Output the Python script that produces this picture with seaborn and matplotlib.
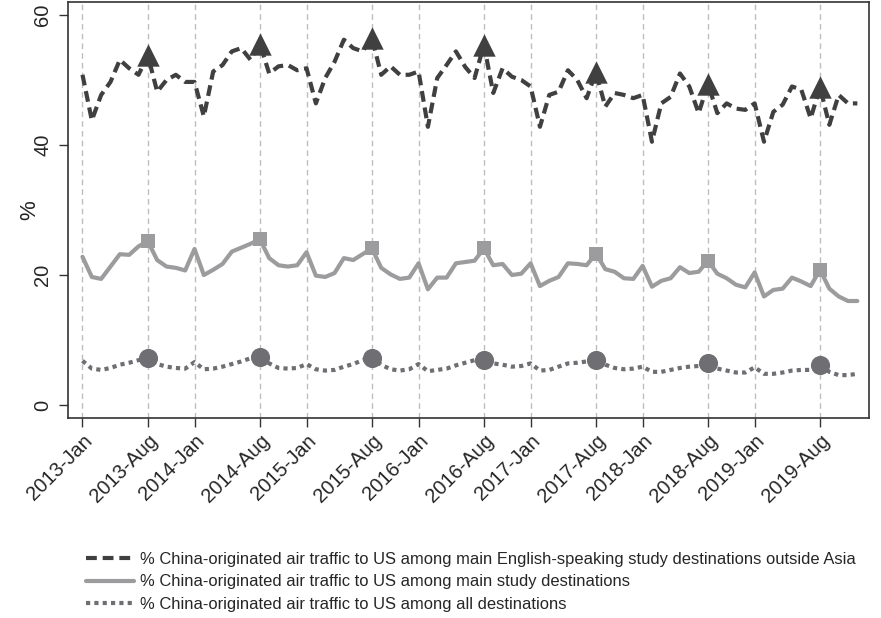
import numpy as np
import pandas as pd
import matplotlib
matplotlib.use("Agg")
import matplotlib.pyplot as plt
from matplotlib.lines import Line2D
import seaborn as sns

# Monthly series, 2013-Jan .. 2019-Dec (84 months), shares in percent
years = list(range(2013, 2020))
month_names = ["Jan", "Feb", "Mar", "Apr", "May", "Jun",
               "Jul", "Aug", "Sep", "Oct", "Nov", "Dec"]

english_outside_asia = [
    50.8, 43.8, 47.7, 49.7, 53.1, 51.8, 50.8, 53.8, 48.2, 50.0, 50.8, 49.7,
    49.7, 44.4, 51.3, 52.3, 54.4, 54.9, 53.1, 55.6, 51.0, 52.1, 52.3, 51.5,
    51.8, 46.4, 50.3, 52.8, 56.2, 54.9, 54.4, 56.5, 50.8, 52.1, 50.8, 50.8,
    51.3, 42.8, 50.3, 52.3, 54.4, 52.0, 50.3, 55.4, 48.0, 51.8, 50.5, 50.0,
    49.0, 42.8, 47.7, 48.2, 51.5, 50.0, 47.2, 51.2, 45.9, 48.0, 47.7, 47.2,
    47.7, 40.5, 46.4, 47.4, 51.0, 49.0, 44.9, 49.4, 44.9, 46.4, 45.6, 45.4,
    46.4, 40.5, 45.1, 46.2, 49.0, 48.5, 44.1, 48.9, 43.1, 47.7, 46.4, 46.4,
]

main_study = [
    22.8, 19.7, 19.4, 21.3, 23.2, 23.1, 24.4, 25.2, 22.3, 21.3, 21.1, 20.7,
    24.0, 20.0, 20.8, 21.7, 23.6, 24.2, 24.8, 25.5, 22.6, 21.5, 21.3, 21.5,
    23.5, 19.9, 19.7, 20.3, 22.6, 22.3, 23.2, 24.1, 21.1, 20.1, 19.4, 19.6,
    21.8, 17.8, 19.6, 19.6, 21.8, 22.0, 22.2, 24.1, 21.5, 21.7, 20.0, 20.2,
    21.8, 18.3, 19.1, 19.7, 21.8, 21.7, 21.5, 23.3, 20.9, 20.5, 19.5, 19.4,
    21.4, 18.2, 19.1, 19.5, 21.2, 20.3, 20.5, 22.2, 20.2, 19.5, 18.5, 18.1,
    20.4, 16.7, 17.7, 17.9, 19.6, 19.0, 18.3, 20.8, 17.9, 16.7, 16.0, 16.0,
]

all_destinations = [
    6.8, 5.6, 5.4, 5.7, 6.2, 6.5, 6.9, 7.2, 6.3, 5.9, 5.7, 5.6,
    6.6, 5.5, 5.6, 5.9, 6.3, 6.7, 7.2, 7.4, 6.4, 5.7, 5.6, 5.7,
    6.3, 5.5, 5.3, 5.4, 5.9, 6.3, 6.9, 7.3, 6.2, 5.5, 5.3, 5.5,
    6.3, 5.2, 5.4, 5.6, 6.1, 6.5, 6.9, 7.0, 6.4, 6.2, 5.9, 6.0,
    6.4, 5.3, 5.4, 5.9, 6.4, 6.5, 6.7, 7.0, 6.2, 5.7, 5.5, 5.6,
    5.9, 5.1, 5.1, 5.4, 5.7, 5.9, 6.0, 6.4, 5.6, 5.3, 5.0, 5.0,
    5.8, 4.8, 4.8, 5.0, 5.3, 5.4, 5.4, 6.2, 5.1, 4.6, 4.6, 4.8,
]

series_labels = [
    "% China-originated air traffic to US among main English-speaking study destinations outside Asia",
    "% China-originated air traffic to US among main study destinations",
    "% China-originated air traffic to US among all destinations",
]

# Build a tidy frame with a running month index
month_idx = np.arange(len(english_outside_asia))
df = pd.DataFrame({
    "t": month_idx,
    "english": english_outside_asia,
    "study": main_study,
    "all": all_destinations,
})
aug = df[df["t"] % 12 == 7]

tick_pos = []
tick_lab = []
for i, y in enumerate(years):
    tick_pos += [12 * i, 12 * i + 7]
    tick_lab += [f"{y}-Jan", f"{y}-Aug"]

sns.set_theme(style="white")
plt.rcParams["font.family"] = ["Liberation Sans", "DejaVu Sans"]

fig = plt.figure(figsize=(8.81, 6.18), dpi=100)
ax = fig.add_axes([0.0772, 0.3236, 0.9092, 0.6732])

dark = "#404040"
light = "#9c9c9e"
mid = "#6f6f73"

# vertical reference lines at labelled months
for p in tick_pos:
    ax.axvline(p, color="#bdbdbd", lw=1.0, ls=(0, (4, 3)), zorder=0)

sns.lineplot(data=df, x="t", y="english", ax=ax, color=dark, lw=3.0,
             linestyle=(0, (2.6, 1.4)), zorder=3)
sns.lineplot(data=df, x="t", y="study", ax=ax, color=light, lw=3.0, zorder=2)
sns.lineplot(data=df, x="t", y="all", ax=ax, color=mid, lw=3.0,
             linestyle=(0, (1.0, 1.0)), zorder=2)

sns.scatterplot(data=aug, x="t", y="english", ax=ax, marker="^", s=260,
                color=dark, edgecolor=dark, linewidth=0, zorder=4)
sns.scatterplot(data=aug, x="t", y="study", ax=ax, marker="s", s=110,
                color=light, edgecolor=light, linewidth=0, zorder=4)
sns.scatterplot(data=aug, x="t", y="all", ax=ax, marker="o", s=190,
                color=mid, edgecolor=mid, linewidth=0, zorder=4)

ax.set_xlim(-1.55, 84.25)
ax.set_ylim(-2.0, 62.0)
ax.set_xticks(tick_pos)
ax.set_xticklabels(tick_lab, rotation=45, ha="right", rotation_mode="anchor",
                   fontsize=14.5)
ax.set_yticks([0, 20, 40, 60])
ax.set_yticklabels(["0", "20", "40", "60"], rotation=90, va="center",
                   fontsize=14.5)
ax.set_xlabel("")
ax.set_ylabel("%", fontsize=16, labelpad=-5)
ax.tick_params(axis="x", which="major", direction="out", length=6.5,
               width=1.0, color="#333333", pad=3, bottom=True)
ax.tick_params(axis="y", which="major", direction="out", length=6.5,
               width=1.0, color="#333333", pad=5, left=True)
for s in ax.spines.values():
    s.set_color("#333333")
    s.set_linewidth(1.2)

handles = [
    Line2D([], [], color=dark, lw=3.0, linestyle=(0, (2.6, 1.4))),
    Line2D([], [], color=light, lw=3.0),
    Line2D([], [], color=mid, lw=3.0, linestyle=(0, (1.0, 1.0))),
]
fig.legend(handles, series_labels, loc="upper left",
           bbox_to_anchor=(0.098, 0.107), frameon=False, fontsize=11.9,
           handlelength=2.9, handletextpad=0.35, labelspacing=0.45,
           borderaxespad=0, borderpad=0)

fig.savefig("out.png", dpi=100, facecolor="white")
